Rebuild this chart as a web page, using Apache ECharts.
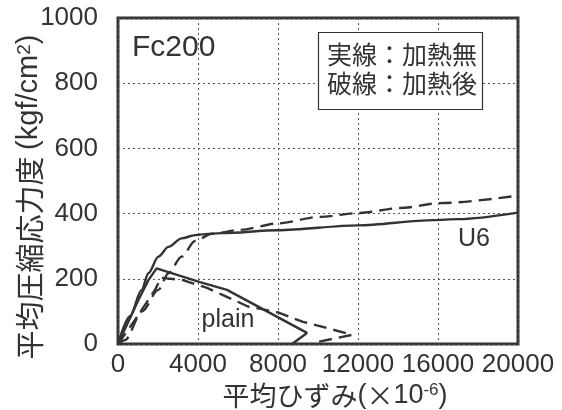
<!DOCTYPE html>
<html>
<head>
<meta charset="utf-8">
<script src="https://cdn.jsdelivr.net/npm/echarts@6/dist/echarts.min.js"></script>
<style>
html,body{margin:0;padding:0;background:#fff;}
#chart{width:562px;height:410px;}
</style>
</head>
<body>
<div id="chart"></div>
<script>
// ---- data (strain ×10^-6, stress kgf/cm2) ----
const xTicks = [0, 4000, 8000, 12000, 16000, 20000];
const yTicks = [0, 200, 400, 600, 800, 1000];

const u6SolidStrain = [0, 600, 1180, 1520, 2020, 2520, 3180, 3850, 4350, 5180, 8000, 12000, 15750, 17000, 20000];
const u6SolidStress = [0, 85, 166, 217, 268, 298, 324, 334, 337, 340, 349, 364, 380, 383, 403];

const u6DashStrain = [0, 350, 1200, 2020, 2520, 3180, 3850, 4700, 6100, 8000, 10100, 12100, 14100, 16100, 20000];
const u6DashStress = [0, 12, 100, 166, 217, 268, 316, 338, 350, 370, 390, 402, 417, 432, 455];

const plainSolidStrain = [0, 1020, 1520, 1930, 4100, 5450, 9450, 8700];
const plainSolidStress = [0, 135, 196, 232, 190, 166, 34, 0];

const plainDashStrain = [0, 850, 1350, 1850, 2150, 3250, 4450, 5250, 6500, 8000, 9250, 10450, 11700, 9700];
const plainDashStress = [0, 74, 120, 166, 203, 196, 172, 150, 115, 97, 68, 49, 28, 3];

const curveLabels = ['U6', 'plain'];
const specimenLabel = 'Fc200';
const legendLines = ['実線：加熱無', '破線：加熱後'];

function zip(xs, ys) { return xs.map((x, i) => [x, ys[i]]); }

const ink = '#333';
const latin = 'Liberation Sans, Arial, sans-serif';
const cjk = 'Noto Sans CJK JP, sans-serif';

const chart = echarts.init(document.getElementById('chart'), null, {renderer: 'canvas'});

function lineSeries(name, pts, dashed, extra) {
  return Object.assign({
    name: name,
    type: 'line',
    data: pts,
    showSymbol: false,
    symbol: 'none',
    lineStyle: {color: ink, width: 2.4, type: dashed ? [13, 7] : 'solid'},
    z: 3
  }, extra || {});
}

const option = {
  animation: false,
  backgroundColor: '#fff',
  title: [
    {
      text: specimenLabel, left: 132, top: 33, padding: 0,
      textStyle: {fontFamily: latin, fontSize: 30, fontWeight: 'normal', color: ink}
    },
    {
      text: legendLines.join('\n'), left: 318, top: 32,
      padding: [8, 6, 12, 9], borderWidth: 1.2, borderColor: ink, backgroundColor: '#fff',
      textStyle: {fontFamily: cjk, fontSize: 25, lineHeight: 29, fontWeight: 'normal', color: ink}
    }
  ],
  grid: {
    left: 118, right: 44, top: 18, bottom: 66,
    containLabel: false, outerBoundsMode: 'none',
    show: true, borderColor: ink, borderWidth: 3, backgroundColor: 'transparent'
  },
  xAxis: {
    type: 'value', min: xTicks[0], max: xTicks[xTicks.length - 1], interval: xTicks[1] - xTicks[0],
    axisLine: {show: false}, axisTick: {show: false},
    splitLine: {show: true, lineStyle: {color: '#555', width: 1, type: [2, 3]}},
    axisLabel: {margin: 8, fontFamily: latin, fontSize: 26, color: ink, formatter: v => String(v), hideOverlap: false},
    name: '{c|平均ひずみ}{l|(}{c|×}{l|10}{s|-6}{l|)}',
    nameLocation: 'middle', nameGap: 38, nameMoveOverlap: false,
    nameTextStyle: {
      padding: [0, 0, 0, 34],
      rich: {
        c: {fontFamily: cjk, fontSize: 27, color: ink},
        l: {fontFamily: latin, fontSize: 27, color: ink},
        s: {fontFamily: latin, fontSize: 17, color: ink, verticalAlign: 'top'}
      }
    }
  },
  yAxis: {
    type: 'value', min: yTicks[0], max: yTicks[yTicks.length - 1], interval: yTicks[1] - yTicks[0],
    axisLine: {show: false}, axisTick: {show: false},
    splitLine: {show: true, lineStyle: {color: '#555', width: 1, type: [2, 3]}},
    axisLabel: {margin: 20, fontFamily: latin, fontSize: 26, color: ink, formatter: v => String(v)},
    name: '{c|平均圧縮応力度 }{l|(kgf/cm}{s|2}{l|)}',
    nameLocation: 'middle', nameGap: 74, nameRotate: 90, nameMoveOverlap: false,
    nameTextStyle: {
      padding: [0, 32, 0, 0],
      rich: {
        c: {fontFamily: cjk, fontSize: 29, color: ink},
        l: {fontFamily: latin, fontSize: 29, color: ink},
        s: {fontFamily: latin, fontSize: 19, color: ink, verticalAlign: 'top'}
      }
    }
  },
  series: [
    lineSeries('U6 加熱無', zip(u6SolidStrain, u6SolidStress), false, {
      smooth: 0.3, smoothMonotone: 'x',
      markPoint: {
        symbol: 'circle', symbolSize: 0, silent: true,
        label: {show: true, position: 'inside', formatter: '{b}', fontFamily: latin, fontSize: 25, color: ink},
        data: [
          {name: curveLabels[0], coord: [17800, 322]},
          {name: curveLabels[1], coord: [5500, 74]}
        ]
      }
    }),
    lineSeries('U6 加熱後', zip(u6DashStrain, u6DashStress), true, {smooth: 0.3, smoothMonotone: 'x'}),
    lineSeries('plain 加熱無', zip(plainSolidStrain, plainSolidStress), false),
    lineSeries('plain 加熱後', zip(plainDashStrain, plainDashStress), true)
  ]
};
chart.setOption(option);
</script>
</body>
</html>
